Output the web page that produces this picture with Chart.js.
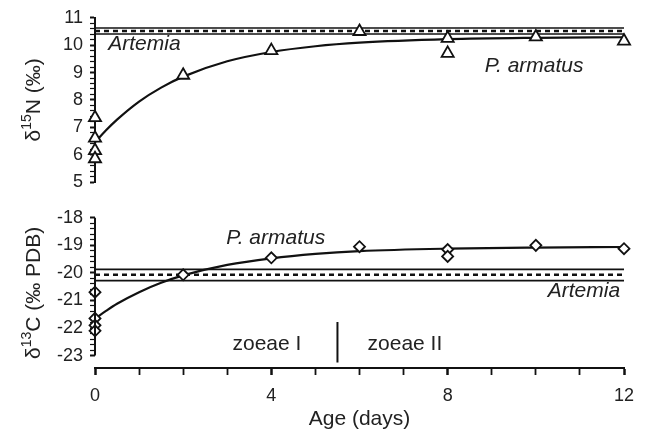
<!DOCTYPE html>
<html>
<head>
<meta charset="utf-8">
<script src="https://cdn.jsdelivr.net/npm/chart.js@4"></script>
<style>
  body { margin: 0; background: #fff; }
  #top { position: absolute; left: 0; top: 0; width: 645px; height: 200px; }
  #bot { position: absolute; left: 0; top: 200px; width: 645px; height: 232px; }
</style>
</head>
<body>
<div id="top"><canvas id="nChart"></canvas></div>
<div id="bot"><canvas id="cChart"></canvas></div>
<script>
// measured larvae values (age in days)
const ageN = [0, 0, 0, 0, 2, 4, 6, 8, 8, 10, 12];
const d15N = [7.35, 6.6, 6.15, 5.85, 8.9, 9.8, 10.5, 10.25, 9.7, 10.3, 10.15];
const ageC = [0, 0, 0, 0, 2, 4, 6, 8, 8, 10, 12];
const d13C = [-20.7, -21.65, -21.9, -22.1, -20.07, -19.45, -19.05, -19.15, -19.4, -19.0, -19.12];

// fitted curves
const fitAge = [0, 0.25, 0.5, 1, 1.5, 2, 3, 4, 5, 6, 8, 10, 12];
const fitN = [6.45, 6.89, 7.28, 7.94, 8.45, 8.85, 9.41, 9.75, 9.96, 10.09, 10.22, 10.27, 10.29];
const fitC = [-21.66, -21.38, -21.12, -20.70, -20.36, -20.09, -19.71, -19.47, -19.31, -19.21, -19.12, -19.08, -19.06];

// Artemia: upper, mean, lower
const artemiaN = [10.63, 10.52, 10.41];
const artemiaC = [-19.87, -20.07, -20.28];

const stageBoundary = 5.5;
const ageTicks = [0, 4, 8, 12];

const FONT = "'Liberation Sans', Arial, sans-serif";
const INK = '#111';
const TXT = '#222';

function pts(xs, ys) {
  return xs.map((x, i) => ({ x: x, y: ys[i] }));
}
function hline(v, dashed) {
  return {
    data: [{ x: 0, y: v }, { x: 12, y: v }],
    showLine: true, pointRadius: 0, borderColor: INK,
    borderWidth: dashed ? 2.5 : 1.6, borderDash: dashed ? [5, 4] : []
  };
}
const isInt = v => Math.abs(v - Math.round(v)) < 1e-6;

const yTitle = {
  id: 'yTitle',
  afterDraw(chart, args, o) {
    const ctx = chart.ctx, a = chart.chartArea;
    ctx.save();
    ctx.translate(o.x, (a.top + a.bottom) / 2);
    ctx.rotate(-Math.PI / 2);
    ctx.fillStyle = TXT;
    const parts = [[o.pre, 21, 0], [o.sup, 14, -9], [o.rest, 21, 0]];
    let w = 0;
    parts.forEach(p => { ctx.font = p[1] + 'px ' + FONT; w += ctx.measureText(p[0]).width; });
    let x = -w / 2;
    ctx.textBaseline = 'alphabetic';
    parts.forEach(p => {
      ctx.font = p[1] + 'px ' + FONT;
      ctx.fillText(p[0], x, 8 + p[2]);
      x += ctx.measureText(p[0]).width;
    });
    ctx.restore();
  }
};

const labels = {
  id: 'labels',
  afterDraw(chart, args, o) {
    const ctx = chart.ctx, sx = chart.scales.x, sy = chart.scales.y;
    ctx.save();
    ctx.fillStyle = TXT;
    ctx.textBaseline = 'middle';
    o.items.forEach(it => {
      ctx.font = (it.italic ? 'italic ' : '') + '21px ' + FONT;
      ctx.textAlign = it.align || 'center';
      ctx.fillText(it.text, sx.getPixelForValue(it.x), sy.getPixelForValue(it.y));
    });
    if (o.axisFrom !== undefined) {
      ctx.strokeStyle = INK;
      ctx.lineWidth = 2;
      ctx.beginPath();
      const px = sx.getPixelForValue(0);
      ctx.moveTo(px, sy.getPixelForValue(o.axisFrom));
      ctx.lineTo(px, sy.getPixelForValue(o.axisTo));
      ctx.stroke();
    }
    ctx.restore();
  }
};

Chart.defaults.font.family = FONT;
Chart.defaults.color = TXT;

function yScale(min, max, cut, border) {
  return {
    type: 'linear', min: min, max: max,
    afterFit: s => { s.width = 95; },
    afterBuildTicks: s => { s.ticks = s.ticks.filter(t => t.value >= cut - 1e-6); },
    border: { display: border, color: INK, width: 2 },
    grid: {
      drawOnChartArea: false, tickLength: 5, tickColor: INK,
      tickWidth: c => (c.tick && isInt(c.tick.value)) ? 2 : 1.2
    },
    ticks: {
      stepSize: 0.2, autoSkip: false, padding: 7, color: TXT, font: { size: 18 },
      callback: v => isInt(v) ? String(Math.round(v)) : ''
    }
  };
}

new Chart(document.getElementById('nChart'), {
  type: 'scatter',
  data: {
    datasets: [
      { data: pts(ageN, d15N), pointStyle: 'triangle', pointRadius: 7, pointBorderWidth: 1.8,
        pointBackgroundColor: '#fff', pointBorderColor: INK, clip: false },
      { data: pts(fitAge, fitN), showLine: true, pointRadius: 0, borderColor: INK,
        borderWidth: 2.2, cubicInterpolationMode: 'monotone' },
      hline(artemiaN[0], false),
      hline(artemiaN[1], true),
      hline(artemiaN[2], false)
    ]
  },
  options: {
    responsive: true, maintainAspectRatio: false, animation: false,
    layout: { padding: { left: 0, right: 21, top: 16, bottom: 18 } },
    scales: {
      x: { type: 'linear', min: 0, max: 12, display: false },
      y: yScale(5, 11, 5, true)
    },
    plugins: {
      legend: { display: false }, tooltip: { enabled: false },
      yTitle: { x: 32, pre: 'δ', sup: '15', rest: 'N (‰)' },
      labels: { items: [
        { text: 'Artemia', x: 0.3, y: 10.02, align: 'left', italic: true },
        { text: 'P. armatus', x: 9.96, y: 9.23, italic: true }
      ] }
    }
  },
  plugins: [yTitle, labels]
});

new Chart(document.getElementById('cChart'), {
  type: 'scatter',
  data: {
    datasets: [
      { data: pts(ageC, d13C), pointStyle: 'rectRot', pointRadius: 5.5, pointBorderWidth: 1.8,
        pointBackgroundColor: '#fff', pointBorderColor: INK, clip: false },
      { data: pts(fitAge, fitC), showLine: true, pointRadius: 0, borderColor: INK,
        borderWidth: 2.2, cubicInterpolationMode: 'monotone' },
      hline(artemiaC[0], false),
      hline(artemiaC[1], true),
      hline(artemiaC[2], false),
      { data: [{ x: stageBoundary, y: -21.78 }, { x: stageBoundary, y: -23.25 }], showLine: true,
        pointRadius: 0, borderColor: INK, borderWidth: 2 }
    ]
  },
  options: {
    responsive: true, maintainAspectRatio: false, animation: false,
    layout: { padding: { left: 0, right: 21, top: 12, bottom: 0 } },
    scales: {
      x: {
        type: 'linear', min: 0, max: 12,
        afterFit: s => { s.height = 64; },
        border: { color: INK, width: 2 },
        grid: {
          drawOnChartArea: false, tickLength: 7, tickColor: INK,
          tickWidth: c => (c.tick && ageTicks.includes(c.tick.value)) ? 2.5 : 1.8
        },
        ticks: {
          stepSize: 1, autoSkip: false, maxRotation: 0, padding: 10, color: TXT, font: { size: 18 },
          callback: v => ageTicks.includes(v) ? String(v) : ''
        },
        title: { display: true, text: 'Age (days)', color: TXT, font: { size: 21 }, padding: { top: 0, bottom: 0 } }
      },
      y: yScale(-23.45, -18, -23, false)
    },
    plugins: {
      legend: { display: false }, tooltip: { enabled: false },
      yTitle: { x: 32, pre: 'δ', sup: '13', rest: 'C (‰ PDB)' },
      labels: {
        axisFrom: -18, axisTo: -23,
        items: [
          { text: 'P. armatus', x: 4.1, y: -18.74, italic: true },
          { text: 'Artemia', x: 11.09, y: -20.66, italic: true },
          { text: 'zoeae I', x: 3.9, y: -22.58 },
          { text: 'zoeae II', x: 7.03, y: -22.58 }
        ]
      }
    }
  },
  plugins: [yTitle, labels]
});
</script>
</body>
</html>
